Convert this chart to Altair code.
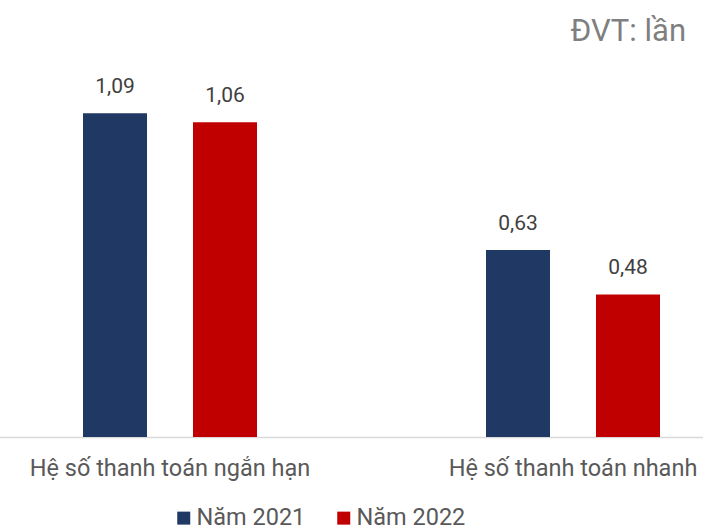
import altair as alt
import pandas as pd

categories = ["Hệ số thanh toán ngắn hạn", "Hệ số thanh toán nhanh"]
series = ["Năm 2021", "Năm 2022"]
values_2021 = [1.09, 0.63]
values_2022 = [1.06, 0.48]
colors = ["#1f3864", "#c00000"]
unit_label = "ĐVT: lần"

rows = []
for i, c in enumerate(categories):
    rows.append({"cat": c, "series": series[0], "value": values_2021[i]})
    rows.append({"cat": c, "series": series[1], "value": values_2022[i]})
df = pd.DataFrame(rows)

FONT = "Roboto"

x_enc = alt.X("cat:N", sort=categories, title=None,
              scale=alt.Scale(range=[-40.5, 765.5], paddingInner=0, paddingOuter=0),
              axis=alt.Axis(labelAngle=0, labelFontSize=23.5, labelColor="#595959",
                            labelFont=FONT, ticks=False, domainColor="#d9d9d9",
                            domainWidth=1.5, labelPadding=19, labelLimit=400))
xo_enc = alt.XOffset("series:N", sort=series,
                     scale=alt.Scale(range=[114.5, 288.5], paddingInner=0.418, paddingOuter=0))
y_enc = alt.Y("value:Q", scale=alt.Scale(domain=[0, 360 / 297]), axis=None)

base = alt.Chart(df).transform_calculate(
    label="replace(format(datum.value, '.2f'), '.', ',')"
)

bars = base.mark_bar().encode(
    x=x_enc, xOffset=xo_enc, y=y_enc,
    color=alt.Color("series:N", sort=series, title=None,
                    scale=alt.Scale(domain=series, range=colors),
                    legend=alt.Legend(orient="none", direction="horizontal",
                                      legendX=163, legendY=429,
                                      symbolType="square", symbolSize=169,
                                      symbolStrokeWidth=0,
                                      labelFontSize=23.5, labelColor="#595959",
                                      labelFont=FONT, columnPadding=26,
                                      labelOffset=1)),
)

texts = base.mark_text(dy=-26, fontSize=21, font=FONT, color="#404040").encode(
    x=x_enc, xOffset=xo_enc, y=y_enc, text="label:N"
)

unit = alt.Chart(alt.Data(values=[{"t": unit_label}])).mark_text(
    align="right", baseline="middle", fontSize=31, font=FONT, color="#7f7f7f"
).encode(x=alt.value(677), y=alt.value(-45), text="t:N")

chart = alt.layer(bars, texts, unit).properties(
    width=694, height=360,
    autosize=alt.AutoSizeParams(type="none"),
    padding={"left": 9, "top": 77, "right": 0, "bottom": 92},
).configure(background="white").configure_view(strokeWidth=0, stroke="transparent")

chart.save("out.html", embed_options={"renderer": "svg", "actions": False})
